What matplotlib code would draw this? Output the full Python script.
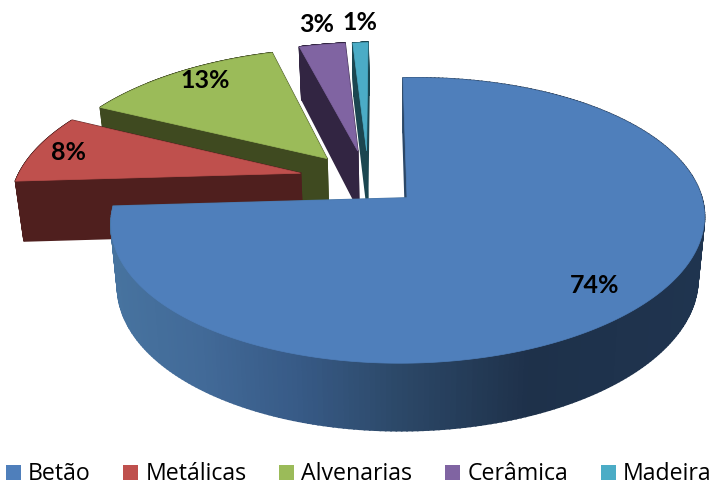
import matplotlib
matplotlib.use('Agg')
import matplotlib.pyplot as plt
from matplotlib.colors import LinearSegmentedColormap
from matplotlib.patches import Patch, Polygon
import numpy as np

# data
labels = ['Betão', 'Metálicas', 'Alvenarias', 'Cerâmica', 'Madeira']
values = [74, 8, 13, 3, 1]
pct_text = ['74%', '8%', '13%', '3%', '1%']

# styles
top_colors = ['#4f7fbb', '#bf504d', '#9bbb59', '#8064a2', '#4bacc6']
side_colors = ['#1f344f', '#4f1f1e', '#3f4a20', '#322542', '#1b4650']
# offset of each slice in the plane of the pie, radius of the pie = 1
explode_u = [0.0, -0.372, -0.282, -0.172, -0.14]
explode_v = [0.0, 0.2, 0.31, 0.365, 0.365]
label_x = [595, 69, 205, 317, 360]
label_y = [285, 152, 81, 24, 22]

# perspective of the pie plane, in pixels
ox, oy = 407, 198
a, b, c, g, h = 139.0, 0.158, 293.0, -4.63, -6.0

blue_side = LinearSegmentedColormap.from_list(
    'side', [(0.0, '#47739f'), (0.15, '#426a98'), (0.32, '#375a86'), (0.49, '#2c4868'),
             (0.71, '#1e314a'), (1.0, '#1f344f')])


def project(u, v):
    w = 1 + b * v
    return ox + (c * u + g * v) / w, oy + (h * u - a * v) / w


def extrude(x, y, v):
    return x + (406 - x) * 0.022, y + 61 - 6.5 * v


fig = plt.figure(figsize=(7.13, 4.86), dpi=100)
ax = fig.add_axes([0, 0, 1, 1])
ax.set_xlim(0, 713)
ax.set_ylim(486, 0)
ax.axis('off')

edges = np.concatenate([[0], np.cumsum(values)]) / sum(values) * 2 * np.pi

# back slices first, the big one goes on top
for i in [4, 3, 2, 1, 0]:
    th = np.linspace(edges[i], edges[i + 1], 300)
    u = np.concatenate([[0], np.sin(th)]) + explode_u[i]
    v = np.concatenate([[0], np.cos(th)]) + explode_v[i]
    x, y = project(u, v)
    xb, yb = extrude(x, y, v)

    # side walls, also closing back to the apex
    n = len(x)
    for j in range(n):
        k = (j + 1) % n
        col = side_colors[i]
        if i == 0:
            col = blue_side((x[j] - 110) / 595)
        quad = [(x[j], y[j]), (x[k], y[k]), (xb[k], yb[k]), (xb[j], yb[j])]
        ax.add_patch(Polygon(quad, closed=True, facecolor=col, edgecolor=col, lw=1.2))

    ax.add_patch(Polygon(np.column_stack([x, y]), closed=True, facecolor=top_colors[i],
                         edgecolor=top_colors[i], lw=0.5))

for i in range(len(values)):
    ax.text(label_x[i], label_y[i], pct_text[i], fontsize=18, fontweight='bold', family='Lato',
            ha='center', va='center', color='black')

handles = [Patch(facecolor=col, label=lab) for col, lab in zip(top_colors, labels)]
leg = ax.legend(handles=handles, ncols=5, loc='lower center', bbox_to_anchor=(0.503, -0.02), frameon=False,
                prop={'family': 'Open Sans', 'size': 16.7}, handlelength=0.65, handleheight=0.65,
                handletextpad=0.3, columnspacing=1.42, borderpad=0.2, borderaxespad=0.2)

plt.savefig('out.png', dpi=100)
